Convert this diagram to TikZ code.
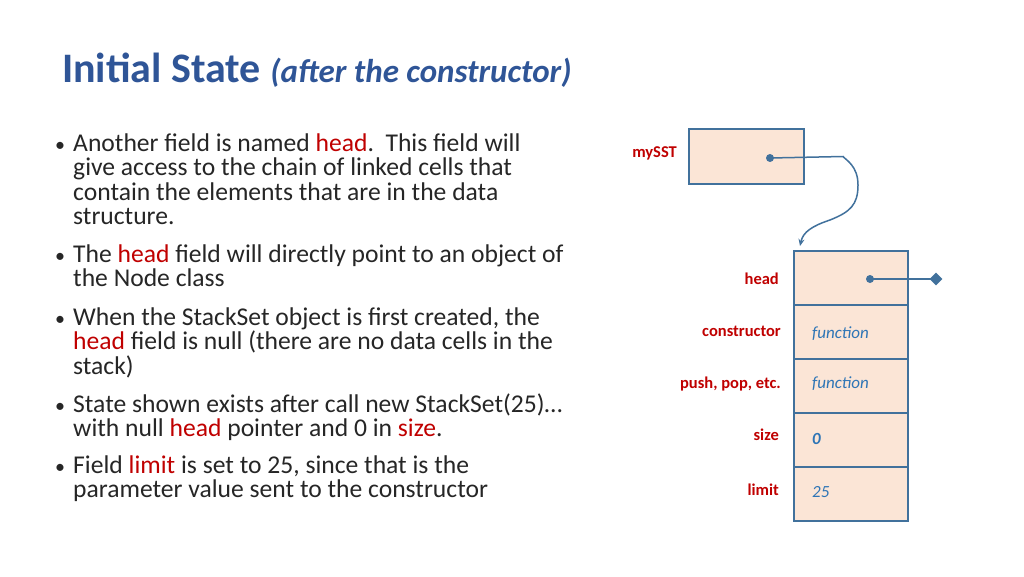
\documentclass[tikz,border=0pt]{standalone}
\usepackage{fontspec}
\setmainfont{Carlito}
\usetikzlibrary{arrows.meta}
\definecolor{tblue}{HTML}{2F5597}
\definecolor{lblue}{HTML}{41719C}
\definecolor{vblue}{HTML}{2E75B6}
\definecolor{fill1}{HTML}{FBE5D6}
\definecolor{dred}{HTML}{C00000}
\definecolor{txt}{HTML}{262626}
\begin{document}
\begin{tikzpicture}[x=1pt,y=-1pt,
  cell/.style={draw=lblue,line width=1.5pt,fill=fill1},
  lab/.style={anchor=base east,text=dred,font=\fontsize{16.5}{18}\selectfont\bfseries,inner sep=0},
  val/.style={anchor=base west,text=vblue,font=\fontsize{17}{19}\selectfont\itshape,inner sep=0},
  btext/.style={anchor=base west,text=txt,font=\fontsize{25.6}{28}\selectfont,inner sep=0},
  ptr/.style={draw=lblue,line width=1.5pt}]
\useasboundingbox (0,0) rectangle (1024,576);
\fill[white] (0,0) rectangle (1024,576);
\node[anchor=base west,inner sep=0,text=tblue] (title) at (62,82)
  {\fontsize{42}{46}\selectfont\bfseries Initial State \fontsize{33}{36}\selectfont\itshape(after the constructor)};
\newcommand{\hd}[1]{\textcolor{dred}{#1}}
\foreach \y in {151,262,325,412,473} \node[btext,font=\fontsize{20}{22}\selectfont] at (55,\y) {•};
\node[btext] (l1) at (73,151) {Another field is named \hd{head}.\ \ This field will};
\node[btext] (l2) at (73,175.5) {give access to the chain of linked cells that};
\node[btext] (l3) at (73,200) {contain the elements that are in the data};
\node[btext] (l4) at (73,224.5) {structure.};
\node[btext] (l5) at (73,262) {The \hd{head} field will directly point to an object of};
\node[btext] (l6) at (73,286.5) {the Node class};
\node[btext] (l7) at (73,325) {When the StackSet object is first created, the};
\node[btext] (l8) at (73,349.5) {\hd{head} field is null (there are no data cells in the};
\node[btext] (l9) at (73,374) {stack)};
\node[btext] (l10) at (73,412) {State shown exists after call new StackSet(25)…};
\node[btext] (l11) at (73,436.5) {with null \hd{head} pointer and 0 in \hd{size}.};
\node[btext] (l12) at (73,473) {Field \hd{limit} is set to 25, since that is the};
\node[btext] (l13) at (73,497.5) {parameter value sent to the constructor};
% mySST
\draw[cell] (689,129) rectangle (804,184);
\node[lab] (mysst) at (677,157) {mySST};
\coordinate (d0) at (770,158);
\coordinate (t0) at (800,246);
\draw[ptr,-{Stealth[length=7pt,width=6pt]}] (d0) -- (843,156.5) .. controls (846,160) and (858,166) .. (858,185)
  .. controls (858,205) and (850,212) .. (830,220) .. controls (812,226) and (803,232) .. (t0);
\fill[lblue] (d0) circle (4);
% stack
\foreach \a/\b in {251/305,305/359,359/413,413/467,467/521} \draw[cell] (794,\a) rectangle (908,\b);
\node[lab] (hl) at (779,284) {head};
\node[lab] (cl) at (781,336) {constructor};
\node[lab] (pl) at (781,388) {push, pop, etc.};
\node[lab] (sl) at (779,440) {size};
\node[lab] (ll) at (779,495) {limit};
\node[val] (cv) at (812,338) {function};
\node[val] (pv) at (812,388) {function};
\node[val,font=\fontsize{17}{19}\selectfont\bfseries\itshape] (sv) at (812,444) {0};
\node[val] (lv) at (812,497) {25};
\coordinate (hd) at (870,279);
\node[fill=lblue,shape=rectangle,rotate=45,minimum size=9pt,inner sep=0] (dia) at (936,279) {};
\draw[ptr] (hd) -- (dia.center);
\fill[lblue] (hd) circle (4);
\end{tikzpicture}
\end{document}
